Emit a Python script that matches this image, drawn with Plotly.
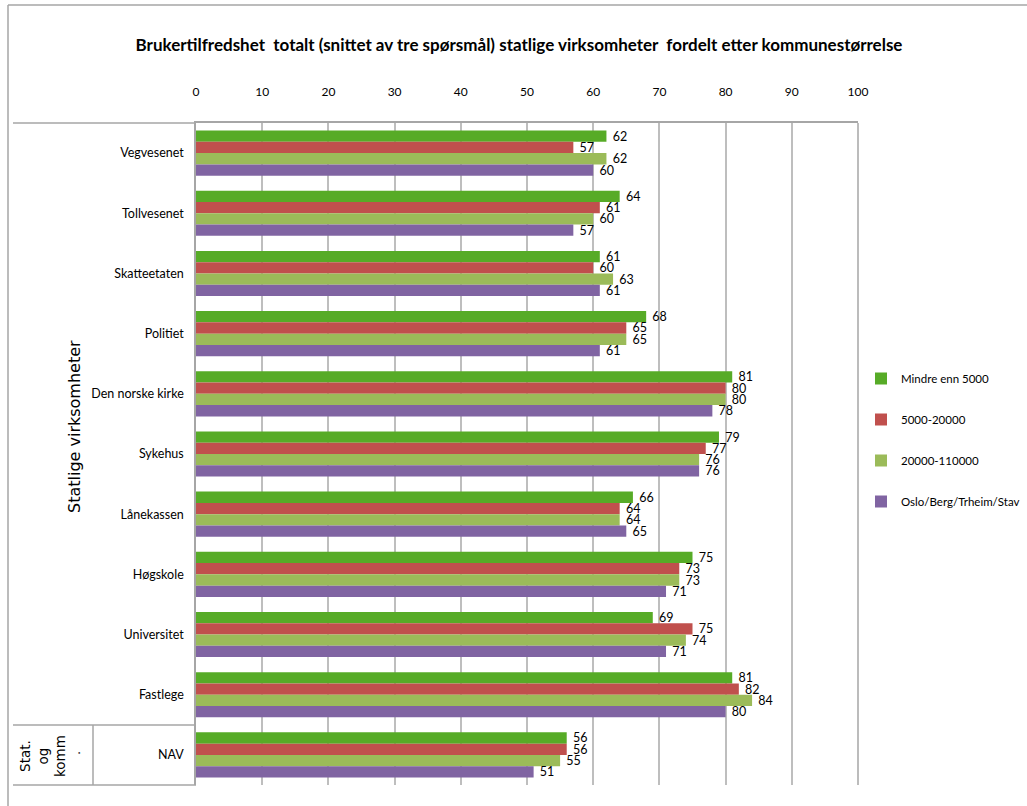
import plotly.graph_objects as go

categories = ["Vegvesenet", "Tollvesenet", "Skatteetaten", "Politiet", "Den norske kirke",
              "Sykehus", "Lånekassen", "Høgskole", "Universitet", "Fastlege", "NAV"]
series_names = ["Mindre enn 5000", "5000-20000", "20000-110000", "Oslo/Berg/Trheim/Stav"]
mindre_enn_5000 = [62, 64, 61, 68, 81, 79, 66, 75, 69, 81, 56]
s5000_20000 = [57, 61, 60, 65, 80, 77, 64, 73, 75, 82, 56]
s20000_110000 = [62, 60, 63, 65, 80, 76, 64, 73, 74, 84, 55]
storbyer = [60, 57, 61, 61, 78, 76, 65, 71, 71, 80, 51]
x_ticks = [0, 10, 20, 30, 40, 50, 60, 70, 80, 90, 100]
colors = ["#57AB27", "#C0504D", "#9BBB59", "#8064A2"]

FONT = "Lato, Roboto, sans-serif"
SIDE_FONT = "DejaVu Sans, Verdana, sans-serif"

W, H = 1027, 806
L, R, T, B = 196, 858, 123, 785
PW, PH = R - L, B - T


def px(x):
    return (x - L) / PW


def py(y):
    return (B - y) / PH


fig = go.Figure()
for name, vals, col in zip(series_names, [mindre_enn_5000, s5000_20000, s20000_110000, storbyer], colors):
    fig.add_trace(go.Bar(
        y=categories, x=vals, name=name, orientation="h",
        marker=dict(color=col, line=dict(width=0)),
        text=vals, texttemplate=" %{x}", textposition="outside",
        textfont=dict(family=FONT, size=12.5, color="#000"),
        cliponaxis=False, constraintext="none", textangle=0,
        legendgroup=name,
    ))

fig.update_layout(
    width=W, height=H,
    margin=dict(l=L, r=W - R, t=T, b=H - B, autoexpand=False),
    paper_bgcolor="white", plot_bgcolor="white",
    barmode="group", bargap=0.25, bargroupgap=0,
    font=dict(family=FONT, size=13, color="#000"),
    title=dict(
        text="<b>Brukertilfredshet&nbsp; totalt (snittet av tre spørsmål) statlige virksomheter&nbsp; fordelt etter kommunestørrelse</b>",
        x=519 / W, xanchor="center", y=1 - 45 / H, yanchor="middle",
        font=dict(family=FONT, size=17, color="#000"),
    ),
    xaxis=dict(
        side="top", range=[0, 100], tickvals=x_ticks, ticks="",
        showgrid=True, gridcolor="#BEBEBE", gridwidth=1.5,
        showline=True, linecolor="#A6A6A6", linewidth=1.5,
        zeroline=False, tickfont=dict(family=FONT, size=12),
        ticklabelstandoff=20, fixedrange=True, automargin=False,
    ),
    yaxis=dict(
        autorange="reversed", ticks="", showgrid=False,
        showline=True, linecolor="#A6A6A6", linewidth=1.5,
        tickfont=dict(family=FONT, size=12.5), ticklabelstandoff=8,
        automargin=False, fixedrange=True,
    ),
    legend=dict(
        x=px(861), y=py(364), xanchor="left", yanchor="top",
        font=dict(family=FONT, size=11.5), traceorder="grouped",
        tracegroupgap=22, itemwidth=30, bgcolor="rgba(0,0,0,0)",
    ),
    showlegend=True,
)

line_c = "#A6A6A6"
shapes = [
    # outer frame
    dict(x0=px(8), x1=px(W + 5), y0=py(5), y1=py(5)),
    dict(x0=px(8), x1=px(8), y0=py(5), y1=py(H + 5)),
    # left category table
    dict(x0=px(13), x1=0, y0=py(123), y1=py(123)),
    dict(x0=px(13), x1=0, y0=py(725), y1=py(725)),
    dict(x0=px(13), x1=0, y0=py(785), y1=py(785)),
    dict(x0=px(93), x1=px(93), y0=py(725), y1=py(785)),
    # right border of plot
    dict(x0=1, x1=1, y0=0, y1=1),
]
for s in shapes:
    fig.add_shape(type="line", xref="paper", yref="paper", line=dict(color=line_c, width=1.5), **s)

fig.add_annotation(text="Statlige virksomheter", x=px(75), y=py(427), xref="paper", yref="paper",
                   xanchor="center", yanchor="middle",
                   textangle=-90, showarrow=False, font=dict(family=SIDE_FONT, size=16, color="#000"))
fig.add_annotation(text="Stat.<br>og<br>komm", x=px(42), y=py(756), xref="paper", yref="paper",
                   xanchor="center", yanchor="middle",
                   textangle=-90, showarrow=False, font=dict(family=SIDE_FONT, size=13.5, color="#000"))
fig.add_annotation(text=".", x=px(75), y=py(753), xref="paper", yref="paper",
                   xanchor="center", yanchor="middle",
                   textangle=-90, showarrow=False, font=dict(family=SIDE_FONT, size=13, color="#000"))

fig.write_html("out.html", post_script="document.body.style.margin='0';",
               config={"displayModeBar": False})
